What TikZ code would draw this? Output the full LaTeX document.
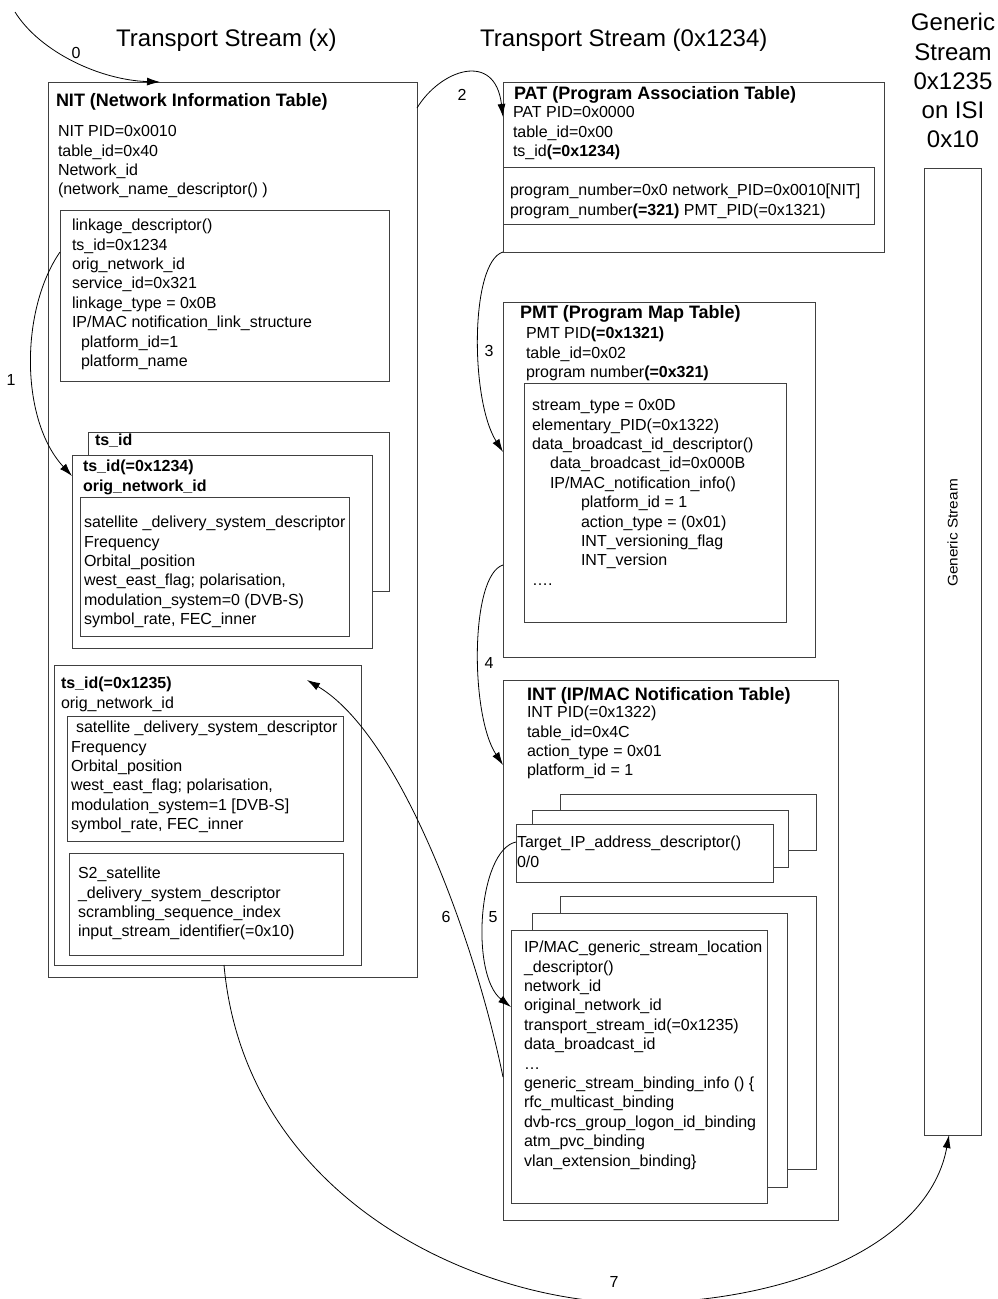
\documentclass[tikz,border=0pt]{standalone}
\usepackage{fontspec}
\setmainfont{Liberation Sans}
\usetikzlibrary{arrows.meta,calc,fit}
\newcommand{\fs}{\rule{0pt}{12pt}}
\newcommand{\ft}{\rule{0pt}{13.5pt}}
\newcommand{\fh}{\rule{0pt}{18pt}}
\begin{document}
\begin{tikzpicture}[x=1pt,y=-1pt,
 box/.style={draw=black!75, line width=0.9pt, fill=white, inner sep=0pt, outer sep=0pt},
 body/.style={anchor=north west, inner sep=0pt, outer sep=0pt, align=left, font=\fontsize{16}{19.4}\selectfont},
 ttl/.style={anchor=north west, inner sep=0pt, outer sep=0pt, align=left, font=\fontsize{18}{20}\selectfont\bfseries},
 conn/.style={draw=black, line width=0.8pt, -{Latex[length=13pt,width=8pt]}},
 lbl/.style={inner sep=0pt, font=\fontsize{16}{19}\selectfont},
 hdr/.style={inner sep=0pt, font=\fontsize{24}{29.25}\selectfont}]
\useasboundingbox (0,0) rectangle (997,1299);

% headers
\node[hdr, anchor=north west] (h1) at (116,28.6) {\fh Transport Stream (x)};
\node[hdr, anchor=north west] (h2) at (480,28.6) {\fh Transport Stream (0x1234)};
\node[hdr, anchor=north, align=center] (h3) at (953,12.6) {\fh Generic\\Stream\\0x1235\\on ISI\\0x10};

% NIT
\node[box, fit={(48,82) (417,977)}] (nit) {};
\node[ttl] (nitt) at (56,92.9) {\ft NIT (Network Information Table)};
\node[body] (nitb) at (58,124.7) {\fs NIT PID=0x0010\\table\_id=0x40\\Network\_id\\(network\_name\_descriptor() )};
\node[box, fit={(60,210) (389,381)}] (link) {};
\node[body] (linkt) at (72,218.7) {\fs linkage\_descriptor()\\ts\_id=0x1234\\orig\_network\_id\\service\_id=0x321\\linkage\_type = 0x0B\\IP/MAC notification\_link\_structure\\\hspace*{9pt}platform\_id=1\\\hspace*{9pt}platform\_name};
\node[box, fit={(88,432) (389,591)}] (tsb) {};
\node[body, font=\fontsize{16}{19.4}\selectfont\bfseries] (tsbt) at (95,433.7) {\fs ts\_id};
\node[box, fit={(72,455) (372,648)}] (tsf) {};
\node[body, font=\fontsize{16}{19.4}\selectfont\bfseries] (tsft) at (83,459.7) {\fs ts\_id(=0x1234)\\orig\_network\_id};
\node[box, fit={(80,497) (349,636)}] (sat1) {};
\node[body] (sat1t) at (84,515.7) {\fs satellite \_delivery\_system\_descriptor\\Frequency\\Orbital\_position\\west\_east\_flag; polarisation,\\modulation\_system=0 (DVB-S)\\symbol\_rate, FEC\_inner};
\node[box, fit={(54,665) (361,965)}] (ts2) {};
\node[body] (ts2t) at (61,676.7) {\fs\textbf{ts\_id(=0x1235)}\\orig\_network\_id};
\node[box, fit={(67,716) (343,841)}] (sat2) {};
\node[body] (sat2t) at (71,720.7) {\fs\hspace*{5pt}satellite \_delivery\_system\_descriptor\\Frequency\\Orbital\_position\\west\_east\_flag; polarisation,\\modulation\_system=1 [DVB-S]\\symbol\_rate, FEC\_inner};
\node[box, fit={(69,853) (343,955)}] (s2) {};
\node[body] (s2t) at (78,866.7) {\fs S2\_satellite\\\_delivery\_system\_descriptor\\scrambling\_sequence\_index\\input\_stream\_identifier(=0x10)};

% PAT
\node[box, fit={(503,82) (884,252)}] (pat) {};
\node[ttl] (patt) at (514,85.9) {\ft PAT (Program Association Table)};
\node[body] (patb) at (513,105.7) {\fs PAT PID=0x0000\\table\_id=0x00\\ts\_id\textbf{(=0x1234)}};
\node[box, fit={(503,167) (874,224)}] (patin) {};
\node[body] (patint) at (510,183.7) {\fs program\_number=0x0 network\_PID=0x0010[NIT]\\program\_number\textbf{(=321)} PMT\_PID(=0x1321)};

% PMT
\node[box, fit={(503,302) (815,657)}] (pmt) {};
\node[ttl] (pmtt) at (520,304.9) {\ft PMT (Program Map Table)};
\node[body] (pmtb) at (526,326.7) {\fs PMT PID\textbf{(=0x1321)}\\table\_id=0x02\\program number\textbf{(=0x321)}};
\node[box, fit={(524,383) (786,622)}] (pmtin) {};
\node[body] (pmtint) at (532,398.7) {\fs stream\_type = 0x0D\\elementary\_PID(=0x1322)\\data\_broadcast\_id\_descriptor()\\\hspace*{18pt}data\_broadcast\_id=0x000B\\\hspace*{18pt}IP/MAC\_notification\_info()\\\hspace*{49pt}platform\_id = 1\\\hspace*{49pt}action\_type = (0x01)\\\hspace*{49pt}INT\_versioning\_flag\\\hspace*{49pt}INT\_version\\….};

% INT
\node[box, fit={(503,680) (838,1220)}] (int) {};
\node[ttl] (intt) at (527,686.9) {\ft INT (IP/MAC Notification Table)};
\node[body] (intb) at (527,705.7) {\fs INT PID(=0x1322)\\table\_id=0x4C\\action\_type = 0x01\\platform\_id = 1};
\node[box, fit={(560,794) (816,850)}] (tgt3) {};
\node[box, fit={(532,810) (788,867)}] (tgt2) {};
\node[box, fit={(516,824) (773,882)}] (tgt1) {};
\node[body] (tgt1t) at (517,835.7) {\fs Target\_IP\_address\_descriptor()\\0/0};
\node[box, fit={(560,896) (816,1169)}] (gsl3) {};
\node[box, fit={(532,913) (787,1187)}] (gsl2) {};
\node[box, fit={(511,930) (767,1203)}] (gsl1) {};
\node[body] (gsl1t) at (524,940.7) {\fs IP/MAC\_generic\_stream\_location\\\_descriptor()\\network\_id\\original\_network\_id\\transport\_stream\_id(=0x1235)\\data\_broadcast\_id\\…\\generic\_stream\_binding\_info () \{\\rfc\_multicast\_binding\\dvb-rcs\_group\_logon\_id\_binding\\atm\_pvc\_binding\\vlan\_extension\_binding\}};

% Generic stream
\node[box, fit={(924,168) (981,1135)}] (gen) {};
\node[inner sep=0pt, rotate=90, font=\fontsize{14}{14}\selectfont] (gent) at (952.5,533) {\scalebox{1.1}[1]{Generic Stream}};

% connectors
\coordinate (c0) at (15,12);
\draw[conn] (c0) .. controls (40,52) and (100,80) .. ([xshift=112pt]nit.north west);
\node[lbl] (l0) at (76,53) {0};
\draw[conn] ([yshift=-42pt]link.north west) .. controls (20,310) and (20,420) .. ([yshift=-21pt]tsf.north west);
\node[lbl] (l1) at (11,380) {1};
\draw[conn] ([yshift=-26pt]nit.north east) .. controls (440,70) and (495,50) .. ([yshift=-35pt]pat.north west);
\node[lbl] (l2) at (462,95) {2};
\draw[conn] (pat.south west) .. controls (470,262) and (470,400) .. ([yshift=-150pt]pmt.north west);
\node[lbl] (l3) at (489,351) {3};
\draw[conn] ([yshift=-263pt]pmt.north west) .. controls (470,575) and (470,715) .. ([yshift=-85pt]int.north west);
\node[lbl] (l4) at (489,663) {4};
\draw[conn] ([yshift=-18pt]tgt1.north west) .. controls (478,850) and (470,975) .. ([yshift=-77pt]gsl1.north west);
\node[lbl] (l5) at (493,917) {5};
\draw[conn] ([yshift=-397pt]int.north west) .. controls (475,940) and (400,735) .. ([xshift=-54pt,yshift=-15pt]ts2.north east);
\node[lbl] (l6) at (446,917) {6};
\draw[conn] ([xshift=170pt]ts2.south west) .. controls (245,1200) and (480,1305) .. (640,1303) .. controls (800,1301) and (930,1240) .. ([xshift=25pt]gen.south west);
\node[lbl] (l7) at (614,1282) {7};
\end{tikzpicture}
\end{document}
